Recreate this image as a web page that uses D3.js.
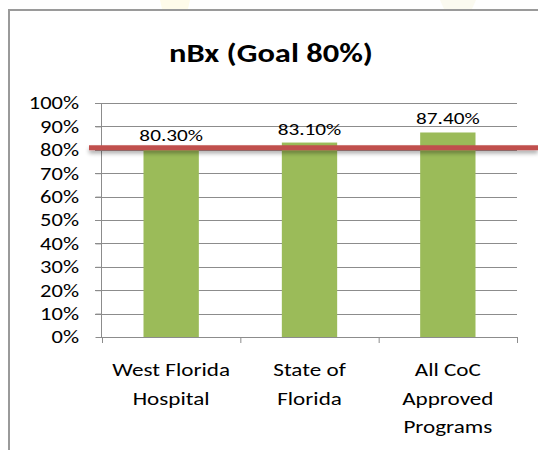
<!DOCTYPE html>
<html><head><meta charset="utf-8">
<script src="https://cdn.jsdelivr.net/npm/d3@7"></script>
<style>body{margin:0;background:#fff}svg{display:block}</style>
</head><body>
<svg id="c" width="538" height="450"></svg>
<script>
const categories = [["West Florida","Hospital"],["State of","Florida"],["All CoC","Approved","Programs"]];
const values = [0.803, 0.831, 0.874];
const valueLabels = ["80.30%","83.10%","87.40%"];
const yTicks = [0,0.1,0.2,0.3,0.4,0.5,0.6,0.7,0.8,0.9,1.0];
const goal = 0.8;
const title = "nBx (Goal 80%)";

const font = "Carlito, Lato, 'Open Sans', sans-serif";
const SX = 1.25;
const svg = d3.select("#c");

function txt(parent, x, y, s, size, anchor, weight){
  return parent.append("text")
    .attr("transform", `translate(${x},${y}) scale(${SX},1)`)
    .attr("text-anchor", anchor).attr("font-family", font)
    .attr("font-size", size).attr("font-weight", weight||"normal")
    .attr("fill", "#000").text(s);
}

// faint watermark shapes above frame
svg.append("path").attr("d","M160,0 L190,0 L188,9 L162,9Z").attr("fill","#fffbea");
svg.append("path").attr("d","M440,0 L476,0 L472,9 L444,9Z").attr("fill","#fbfaf0");

// frame
svg.append("path").attr("d","M9,450 L9,10 L538,10").attr("fill","none").attr("stroke","#9a9a9a").attr("stroke-width",2);

const x = d3.scaleBand().domain(d3.range(categories.length)).range([102,517]).paddingInner(0.6).paddingOuter(0.3);
const xb = d3.scaleBand().domain(d3.range(categories.length)).range([102,517]);
const y = d3.scaleLinear().domain([0,1]).range([337,103]);

// gridlines
svg.append("g").selectAll("line").data(yTicks.filter(d=>d>0)).join("line")
  .attr("x1",95).attr("x2",517).attr("y1",d=>Math.round(y(d))+0.5).attr("y2",d=>Math.round(y(d))+0.5)
  .attr("stroke","#8c8c8c").attr("stroke-width",1);

// y axis
const ya = d3.axisLeft(y).tickValues(yTicks).tickFormat(d3.format(".0%")).tickSize(6);
const yg = svg.append("g").attr("transform","translate(101.5,0)").call(ya);
yg.select(".domain").attr("stroke","#8c8c8c").attr("d","M0,103V337");
yg.selectAll(".tick line").attr("stroke","#8c8c8c");
yg.selectAll(".tick text").remove();
const fmt = d3.format(".0%");
yTicks.forEach(t => txt(svg, 79, y(t)+6.3, fmt(t), 18, "end"));

// bars
svg.append("g").selectAll("rect").data(values).join("rect")
  .attr("x",(d,i)=>x(i)).attr("width",x.bandwidth())
  .attr("y",d=>y(d)).attr("height",d=>y(0)-y(d))
  .attr("fill","#9bbb59");

// x axis
svg.append("line").attr("x1",101).attr("x2",517).attr("y1",337.5).attr("y2",337.5).attr("stroke","#8c8c8c");
svg.append("g").selectAll("line").data(d3.range(categories.length+1)).join("line")
  .attr("x1",i=>(i<categories.length?xb(i):517)+0.5).attr("x2",i=>(i<categories.length?xb(i):517)+0.5)
  .attr("y1",337).attr("y2",343).attr("stroke","#8c8c8c");

// category labels
categories.forEach((lines,i)=>{
  lines.forEach((s,j)=> txt(svg, xb(i)+xb.bandwidth()/2, 376 + j*28.5, s, 18.5, "middle"));
});

// value labels
values.forEach((v,i)=> txt(svg, x(i)+x.bandwidth()/2, y(v)-8, valueLabels[i], 17, "middle"));

// goal line with shadow
const defs = svg.append("defs");
const f = defs.append("filter").attr("id","sh").attr("filterUnits","userSpaceOnUse")
  .attr("x",0).attr("y",130).attr("width",538).attr("height",40);
f.append("feGaussianBlur").attr("in","SourceAlpha").attr("stdDeviation",2);
f.append("feOffset").attr("dy",3).attr("result","b");
f.append("feComponentTransfer").append("feFuncA").attr("type","linear").attr("slope",0.35);
const m = f.append("feMerge"); m.append("feMergeNode"); m.append("feMergeNode").attr("in","SourceGraphic");
svg.append("line").attr("x1",89).attr("x2",538).attr("y1",y(goal)-2).attr("y2",y(goal)-2)
  .attr("stroke","#c0504d").attr("stroke-width",5).attr("filter","url(#sh)");

// title
txt(svg, 271, 62, title, 26, "middle", "bold");
</script>
</body></html>
